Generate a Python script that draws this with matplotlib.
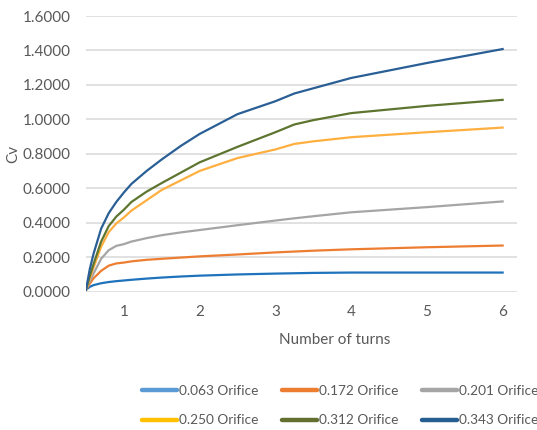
import matplotlib
matplotlib.use("Agg")
import matplotlib.pyplot as plt
from matplotlib.lines import Line2D

plt.rcParams['font.family'] = ['Lato', 'DejaVu Sans']

turns = [0.5, 0.55, 0.6, 0.7, 0.8, 0.9, 1.0, 1.1, 1.3, 1.5, 1.75, 2, 2.5, 3, 3.25, 3.5, 4, 5, 6]
labels = ["0.063 Orifice", "0.172 Orifice", "0.201 Orifice",
          "0.250 Orifice", "0.312 Orifice", "0.343 Orifice"]
cv_063 = [0.01, 0.027, 0.037, 0.048, 0.055, 0.060, 0.064, 0.068, 0.075, 0.081, 0.087, 0.092,
          0.099, 0.104, 0.106, 0.108, 0.110, 0.110, 0.110]
cv_172 = [0.01, 0.045, 0.077, 0.120, 0.150, 0.163, 0.168, 0.175, 0.184, 0.190, 0.197, 0.204,
          0.215, 0.227, 0.232, 0.237, 0.245, 0.257, 0.267]
cv_201 = [0.01, 0.060, 0.105, 0.190, 0.240, 0.265, 0.275, 0.290, 0.310, 0.327, 0.343, 0.357,
          0.385, 0.412, 0.425, 0.437, 0.460, 0.490, 0.523]
cv_250 = [0.01, 0.075, 0.140, 0.260, 0.345, 0.395, 0.430, 0.470, 0.530, 0.590, 0.645, 0.700,
          0.775, 0.825, 0.857, 0.872, 0.896, 0.925, 0.952]
cv_312 = [0.01, 0.090, 0.160, 0.290, 0.380, 0.435, 0.475, 0.520, 0.580, 0.630, 0.690, 0.750,
          0.840, 0.925, 0.970, 0.995, 1.036, 1.078, 1.113]
cv_343 = [0.01, 0.130, 0.220, 0.365, 0.455, 0.520, 0.575, 0.625, 0.700, 0.767, 0.845, 0.915,
          1.030, 1.105, 1.150, 1.180, 1.240, 1.327, 1.408]
series = [cv_063, cv_172, cv_201, cv_250, cv_312, cv_343]

line_colors = ["#1F72BC", "#ED7D31", "#A5A5A5", "#FFAF3F", "#5E7530", "#2A5F96"]
legend_colors = ["#5B9BD5", "#ED7D31", "#A5A5A5", "#FFC000", "#636F2F", "#255E91"]

W, H = 537, 430
fig = plt.figure(figsize=(W / 100, H / 100), dpi=100)
ax = fig.add_axes([86 / W, 1 - 291.5 / H, (517 - 86) / W, (291.5 - 16) / H])

for ys, c in zip(series, line_colors):
    ax.plot(turns, ys, color=c, lw=1.6, solid_joinstyle='round', zorder=3)

ax.set_xlim(0.5, 6.19)
ax.set_ylim(0, 1.6)
ax.set_xticks([1, 2, 3, 4, 5, 6])
ax.set_yticks([i * 0.2 for i in range(9)])
ax.set_yticklabels([f"{i * 0.2:.4f}" for i in range(9)])
ax.grid(axis='y', color='#D9D9D9', lw=1.1, zorder=0)
for s in ax.spines.values():
    s.set_visible(False)
ax.tick_params(length=0, labelsize=11, colors='#595959')
ax.tick_params(axis='y', pad=11)
ax.tick_params(axis='x', pad=10)

fig.text(335 / W, 1 - 340 / H, "Number of turns", ha='center', va='center',
         fontsize=11, color='#595959')
fig.text(13 / W, 1 - 154 / H, "Cv", ha='center', va='center', rotation=90,
         fontsize=11, color='#595959')

handles = [Line2D([], [], color=c, lw=3.2, solid_capstyle='round') for c in legend_colors]
order = [0, 3, 1, 4, 2, 5]
leg = fig.legend([handles[i] for i in order], [labels[i] for i in order],
                 loc='center left', bbox_to_anchor=(142 / W, 1 - 405.5 / H), ncol=3,
                 frameon=False, fontsize=9.8, handlelength=2.6, handletextpad=0.1,
                 columnspacing=1.75, labelspacing=1.3, borderaxespad=0, borderpad=0,
                 labelcolor='#595959')

fig.savefig("out.png", dpi=100)
